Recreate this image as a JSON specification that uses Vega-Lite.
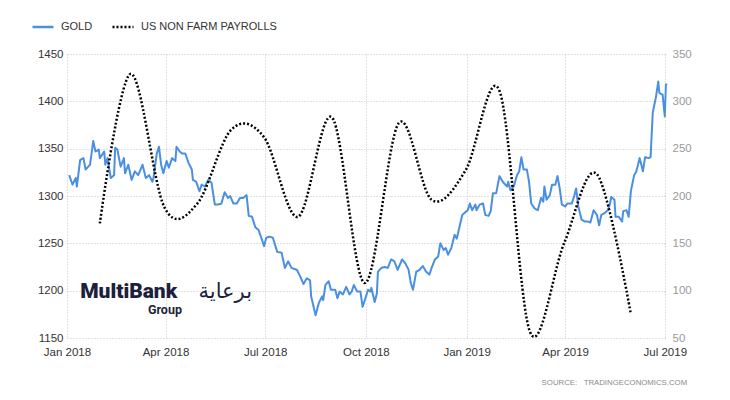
{
  "$schema": "https://vega.github.io/schema/vega-lite/v6.json",
  "width": 600,
  "height": 284,
  "autosize": {"type": "none"},
  "padding": {"left": 67, "top": 54, "right": 63, "bottom": 62},
  "background": "white",
  "config": {"view": {"stroke": null}, "font": "Liberation Sans"},
  "title": {"text": "SOURCE:\u00a0\u00a0\u00a0TRADINGECONOMICS.COM", "orient": "bottom", "anchor": "end", "fontSize": 7.8, "fontWeight": "normal", "color": "#8a8a8a", "offset": 21, "dx": -4},
  "datasets": {
    "gold": [
      {"date":"2018-01-03","GOLD":1322},{"date":"2018-01-06","GOLD":1312},{"date":"2018-01-09","GOLD":1319},{"date":"2018-01-10","GOLD":1310},
      {"date":"2018-01-13","GOLD":1338},{"date":"2018-01-16","GOLD":1340},{"date":"2018-01-18","GOLD":1328},{"date":"2018-01-22","GOLD":1333},
      {"date":"2018-01-25","GOLD":1358},{"date":"2018-01-27","GOLD":1347},{"date":"2018-01-30","GOLD":1349},{"date":"2018-01-31","GOLD":1340},
      {"date":"2018-02-04","GOLD":1347},{"date":"2018-02-05","GOLD":1333},{"date":"2018-02-07","GOLD":1340},{"date":"2018-02-10","GOLD":1319},
      {"date":"2018-02-13","GOLD":1322},{"date":"2018-02-14","GOLD":1351},{"date":"2018-02-16","GOLD":1349},{"date":"2018-02-19","GOLD":1331},
      {"date":"2018-02-22","GOLD":1340},{"date":"2018-02-23","GOLD":1324},{"date":"2018-02-26","GOLD":1333},{"date":"2018-03-01","GOLD":1317},
      {"date":"2018-03-04","GOLD":1326},{"date":"2018-03-07","GOLD":1322},{"date":"2018-03-11","GOLD":1333},{"date":"2018-03-14","GOLD":1319},
      {"date":"2018-03-17","GOLD":1322},{"date":"2018-03-20","GOLD":1315},{"date":"2018-03-21","GOLD":1319},{"date":"2018-03-24","GOLD":1345},
      {"date":"2018-03-26","GOLD":1352},{"date":"2018-03-28","GOLD":1333},{"date":"2018-03-30","GOLD":1324},{"date":"2018-04-02","GOLD":1337},
      {"date":"2018-04-04","GOLD":1330},{"date":"2018-04-07","GOLD":1340},{"date":"2018-04-10","GOLD":1337},{"date":"2018-04-11","GOLD":1352},
      {"date":"2018-04-14","GOLD":1347},{"date":"2018-04-16","GOLD":1345},{"date":"2018-04-19","GOLD":1345},{"date":"2018-04-22","GOLD":1335},
      {"date":"2018-04-25","GOLD":1328},{"date":"2018-04-26","GOLD":1317},{"date":"2018-04-29","GOLD":1315},{"date":"2018-05-02","GOLD":1305},
      {"date":"2018-05-04","GOLD":1312},{"date":"2018-05-07","GOLD":1310},{"date":"2018-05-10","GOLD":1317},{"date":"2018-05-13","GOLD":1314},
      {"date":"2018-05-16","GOLD":1291},{"date":"2018-05-19","GOLD":1291},{"date":"2018-05-22","GOLD":1292},{"date":"2018-05-25","GOLD":1304},
      {"date":"2018-05-28","GOLD":1298},{"date":"2018-05-30","GOLD":1300},{"date":"2018-06-02","GOLD":1292},{"date":"2018-06-05","GOLD":1292},
      {"date":"2018-06-08","GOLD":1298},{"date":"2018-06-11","GOLD":1298},{"date":"2018-06-14","GOLD":1301},{"date":"2018-06-16","GOLD":1279},
      {"date":"2018-06-19","GOLD":1278},{"date":"2018-06-22","GOLD":1267},{"date":"2018-06-25","GOLD":1264},{"date":"2018-06-28","GOLD":1254},
      {"date":"2018-06-30","GOLD":1247},{"date":"2018-07-02","GOLD":1256},{"date":"2018-07-05","GOLD":1257},{"date":"2018-07-08","GOLD":1256},
      {"date":"2018-07-12","GOLD":1241},{"date":"2018-07-16","GOLD":1240},{"date":"2018-07-19","GOLD":1224},{"date":"2018-07-22","GOLD":1231},
      {"date":"2018-07-25","GOLD":1224},{"date":"2018-07-30","GOLD":1222},{"date":"2018-08-02","GOLD":1215},{"date":"2018-08-05","GOLD":1207},
      {"date":"2018-08-08","GOLD":1213},{"date":"2018-08-11","GOLD":1211},{"date":"2018-08-12","GOLD":1194},{"date":"2018-08-16","GOLD":1174},
      {"date":"2018-08-19","GOLD":1187},{"date":"2018-08-22","GOLD":1194},{"date":"2018-08-23","GOLD":1190},{"date":"2018-08-25","GOLD":1206},
      {"date":"2018-08-28","GOLD":1210},{"date":"2018-08-30","GOLD":1201},{"date":"2018-09-03","GOLD":1201},{"date":"2018-09-05","GOLD":1192},
      {"date":"2018-09-07","GOLD":1199},{"date":"2018-09-10","GOLD":1196},{"date":"2018-09-13","GOLD":1204},{"date":"2018-09-16","GOLD":1196},
      {"date":"2018-09-18","GOLD":1199},{"date":"2018-09-20","GOLD":1206},{"date":"2018-09-23","GOLD":1199},{"date":"2018-09-26","GOLD":1199},
      {"date":"2018-09-28","GOLD":1183},{"date":"2018-09-30","GOLD":1190},{"date":"2018-10-03","GOLD":1201},{"date":"2018-10-05","GOLD":1199},
      {"date":"2018-10-06","GOLD":1203},{"date":"2018-10-09","GOLD":1188},{"date":"2018-10-11","GOLD":1197},{"date":"2018-10-12","GOLD":1220},
      {"date":"2018-10-15","GOLD":1224},{"date":"2018-10-18","GOLD":1225},{"date":"2018-10-21","GOLD":1224},{"date":"2018-10-24","GOLD":1233},
      {"date":"2018-10-27","GOLD":1231},{"date":"2018-10-30","GOLD":1222},{"date":"2018-11-03","GOLD":1233},{"date":"2018-11-06","GOLD":1229},
      {"date":"2018-11-09","GOLD":1222},{"date":"2018-11-11","GOLD":1208},{"date":"2018-11-13","GOLD":1201},{"date":"2018-11-16","GOLD":1220},
      {"date":"2018-11-19","GOLD":1222},{"date":"2018-11-22","GOLD":1226},{"date":"2018-11-25","GOLD":1220},{"date":"2018-11-28","GOLD":1217},
      {"date":"2018-11-30","GOLD":1224},{"date":"2018-12-03","GOLD":1233},{"date":"2018-12-06","GOLD":1236},{"date":"2018-12-08","GOLD":1250},
      {"date":"2018-12-11","GOLD":1243},{"date":"2018-12-13","GOLD":1245},{"date":"2018-12-15","GOLD":1238},{"date":"2018-12-18","GOLD":1245},
      {"date":"2018-12-21","GOLD":1259},{"date":"2018-12-23","GOLD":1255},{"date":"2018-12-26","GOLD":1270},{"date":"2018-12-28","GOLD":1280},
      {"date":"2018-12-30","GOLD":1282},{"date":"2019-01-02","GOLD":1285},{"date":"2019-01-04","GOLD":1292},{"date":"2019-01-06","GOLD":1285},
      {"date":"2019-01-09","GOLD":1291},{"date":"2019-01-10","GOLD":1285},{"date":"2019-01-13","GOLD":1291},{"date":"2019-01-16","GOLD":1292},
      {"date":"2019-01-18","GOLD":1280},{"date":"2019-01-21","GOLD":1279},{"date":"2019-01-23","GOLD":1284},{"date":"2019-01-25","GOLD":1303},
      {"date":"2019-01-28","GOLD":1303},{"date":"2019-01-31","GOLD":1321},{"date":"2019-02-03","GOLD":1315},{"date":"2019-02-07","GOLD":1310},
      {"date":"2019-02-08","GOLD":1315},{"date":"2019-02-10","GOLD":1306},{"date":"2019-02-13","GOLD":1310},{"date":"2019-02-16","GOLD":1322},
      {"date":"2019-02-18","GOLD":1326},{"date":"2019-02-20","GOLD":1341},{"date":"2019-02-22","GOLD":1328},{"date":"2019-02-25","GOLD":1328},
      {"date":"2019-02-27","GOLD":1315},{"date":"2019-03-01","GOLD":1292},{"date":"2019-03-04","GOLD":1287},{"date":"2019-03-07","GOLD":1285},
      {"date":"2019-03-10","GOLD":1298},{"date":"2019-03-12","GOLD":1294},{"date":"2019-03-13","GOLD":1310},{"date":"2019-03-15","GOLD":1296},
      {"date":"2019-03-18","GOLD":1301},{"date":"2019-03-20","GOLD":1312},{"date":"2019-03-23","GOLD":1312},{"date":"2019-03-25","GOLD":1321},
      {"date":"2019-03-27","GOLD":1308},{"date":"2019-03-29","GOLD":1291},{"date":"2019-04-01","GOLD":1289},{"date":"2019-04-03","GOLD":1292},
      {"date":"2019-04-07","GOLD":1292},{"date":"2019-04-09","GOLD":1299},{"date":"2019-04-11","GOLD":1308},{"date":"2019-04-13","GOLD":1289},
      {"date":"2019-04-16","GOLD":1275},{"date":"2019-04-19","GOLD":1273},{"date":"2019-04-22","GOLD":1273},{"date":"2019-04-24","GOLD":1272},
      {"date":"2019-04-27","GOLD":1285},{"date":"2019-04-30","GOLD":1280},{"date":"2019-05-02","GOLD":1269},{"date":"2019-05-04","GOLD":1280},
      {"date":"2019-05-07","GOLD":1282},{"date":"2019-05-10","GOLD":1285},{"date":"2019-05-12","GOLD":1292},{"date":"2019-05-13","GOLD":1299},
      {"date":"2019-05-16","GOLD":1296},{"date":"2019-05-17","GOLD":1278},{"date":"2019-05-20","GOLD":1278},{"date":"2019-05-23","GOLD":1273},
      {"date":"2019-05-24","GOLD":1284},{"date":"2019-05-27","GOLD":1285},{"date":"2019-05-29","GOLD":1278},{"date":"2019-05-31","GOLD":1305},
      {"date":"2019-06-03","GOLD":1322},{"date":"2019-06-05","GOLD":1326},{"date":"2019-06-08","GOLD":1340},{"date":"2019-06-10","GOLD":1331},
      {"date":"2019-06-11","GOLD":1326},{"date":"2019-06-13","GOLD":1341},{"date":"2019-06-16","GOLD":1340},{"date":"2019-06-18","GOLD":1341},
      {"date":"2019-06-20","GOLD":1388},{"date":"2019-06-23","GOLD":1405},{"date":"2019-06-25","GOLD":1421},{"date":"2019-06-26","GOLD":1409},
      {"date":"2019-06-29","GOLD":1407},{"date":"2019-07-01","GOLD":1384},{"date":"2019-07-02","GOLD":1418},{"date":"2019-07-03","GOLD":1417}
    ],
    "nfp": [
      {"date":"2018-01-31","US NON FARM PAYROLLS":171},{"date":"2018-02-28","US NON FARM PAYROLLS":329},
      {"date":"2018-03-31","US NON FARM PAYROLLS":188},{"date":"2018-04-30","US NON FARM PAYROLLS":192},
      {"date":"2018-05-31","US NON FARM PAYROLLS":270},{"date":"2018-06-30","US NON FARM PAYROLLS":262},
      {"date":"2018-07-31","US NON FARM PAYROLLS":178},{"date":"2018-08-31","US NON FARM PAYROLLS":283},
      {"date":"2018-09-30","US NON FARM PAYROLLS":108},{"date":"2018-10-31","US NON FARM PAYROLLS":277},
      {"date":"2018-11-30","US NON FARM PAYROLLS":196},{"date":"2018-12-31","US NON FARM PAYROLLS":227},
      {"date":"2019-01-31","US NON FARM PAYROLLS":311},{"date":"2019-02-28","US NON FARM PAYROLLS":56},
      {"date":"2019-03-31","US NON FARM PAYROLLS":150},{"date":"2019-04-30","US NON FARM PAYROLLS":223},
      {"date":"2019-05-31","US NON FARM PAYROLLS":75}
    ]
  },
  "layer": [
    {
      "layer": [
        {
          "data": {"name": "gold"},
          "transform": [{"fold": ["GOLD"], "as": ["series", "value"]}],
          "mark": {"type": "line", "strokeWidth": 2, "interpolate": "linear", "strokeJoin": "round"},
          "encoding": {
            "x": {"field": "date", "type": "temporal",
              "scale": {"domain": [{"year": 2018, "month": 1, "date": 1}, {"year": 2019, "month": 7, "date": 3}]},
              "axis": {"values": [{"year": 2018, "month": 1, "date": 1}, {"year": 2018, "month": 4, "date": 1}, {"year": 2018, "month": 7, "date": 1}, {"year": 2018, "month": 10, "date": 1}, {"year": 2019, "month": 1, "date": 1}, {"year": 2019, "month": 4, "date": 1}, {"year": 2019, "month": 7, "date": 1}],
                "format": "%b %Y", "title": null, "grid": true, "gridDash": [1, 2], "gridColor": "#c4c4c4", "domain": false, "ticks": false,
                "labelColor": "#333333", "labelFontSize": 11.5, "labelPadding": 8, "labelFlush": false}},
            "y": {"field": "value", "type": "quantitative",
              "scale": {"domain": [1150, 1450], "nice": false, "zero": false},
              "axis": {"orient": "left", "values": [1150, 1200, 1250, 1300, 1350, 1400, 1450], "format": "d", "title": null, "grid": true, "gridDash": [1, 2], "gridColor": "#c4c4c4", "domain": false, "ticks": false, "labelColor": "#333333", "labelFontSize": 11.5, "labelPadding": 4}},
            "color": {"field": "series", "type": "nominal",
              "scale": {"domain": ["GOLD", "US NON FARM PAYROLLS"], "range": ["#4a8fe0", "#000000"]},
              "legend": {"orient": "none", "legendX": -36, "legendY": -39, "direction": "horizontal", "title": null, "symbolType": "stroke", "symbolSize": 441, "symbolStrokeWidth": 2.5, "labelFontSize": 11, "labelColor": "#333333", "labelOffset": 6, "columnPadding": 14}},
            "strokeDash": {"field": "series", "type": "nominal",
              "scale": {"domain": ["GOLD", "US NON FARM PAYROLLS"], "range": [[1, 0], [2, 2]]},
              "legend": {"orient": "none", "legendX": -36, "legendY": -39, "direction": "horizontal", "title": null, "symbolType": "stroke", "symbolSize": 441, "symbolStrokeWidth": 2.5, "labelFontSize": 11, "labelColor": "#333333", "labelOffset": 6, "columnPadding": 14}}
          }
        },
        {
          "data": {"values": [{}]},
          "mark": {"type": "text", "text": "MultiBank", "font": "Roboto", "fontWeight": 900, "fontSize": 21, "align": "left", "baseline": "alphabetic", "color": "#1d1f3d"},
          "encoding": {
            "x": {"datum": {"year": 2018, "month": 1, "date": 13}, "type": "temporal", "axis": {"title": null}},
            "y": {"datum": 1192.5, "type": "quantitative", "axis": {"title": null}}
          }
        },
        {
          "data": {"values": [{}]},
          "mark": {"type": "text", "text": "Group", "font": "Roboto", "fontWeight": 700, "fontSize": 12.5, "align": "right", "baseline": "alphabetic", "color": "#1d1f3d"},
          "encoding": {
            "x": {"datum": {"year": 2018, "month": 4, "date": 16}, "type": "temporal", "axis": {"title": null}},
            "y": {"datum": 1175.5, "type": "quantitative", "axis": {"title": null}}
          }
        },
        {
          "data": {"values": [{}]},
          "mark": {"type": "text", "text": "برعاية", "font": "DejaVu Sans", "fontWeight": "normal", "fontSize": 21, "align": "right", "baseline": "alphabetic", "color": "#1d1f3d"},
          "encoding": {
            "x": {"datum": {"year": 2018, "month": 6, "date": 19}, "type": "temporal", "axis": {"title": null}},
            "y": {"datum": 1192, "type": "quantitative", "axis": {"title": null}}
          }
        }
      ]
    },
    {
      "data": {"name": "nfp"},
      "transform": [{"fold": ["US NON FARM PAYROLLS"], "as": ["series", "value"]}],
      "mark": {"type": "line", "strokeWidth": 2.5, "interpolate": "cardinal", "strokeCap": "butt"},
      "encoding": {
        "x": {"field": "date", "type": "temporal"},
        "y": {"field": "value", "type": "quantitative",
          "scale": {"domain": [50, 350], "nice": false, "zero": false},
          "axis": {"orient": "right", "values": [50, 100, 150, 200, 250, 300, 350], "title": null, "grid": false, "domain": false, "ticks": false, "labelColor": "#9a9a9a", "labelFontSize": 11.5, "labelPadding": 5}},
        "color": {"field": "series", "type": "nominal"},
        "strokeDash": {"field": "series", "type": "nominal"}
      }
    }
  ],
  "resolve": {"scale": {"y": "independent"}}
}
